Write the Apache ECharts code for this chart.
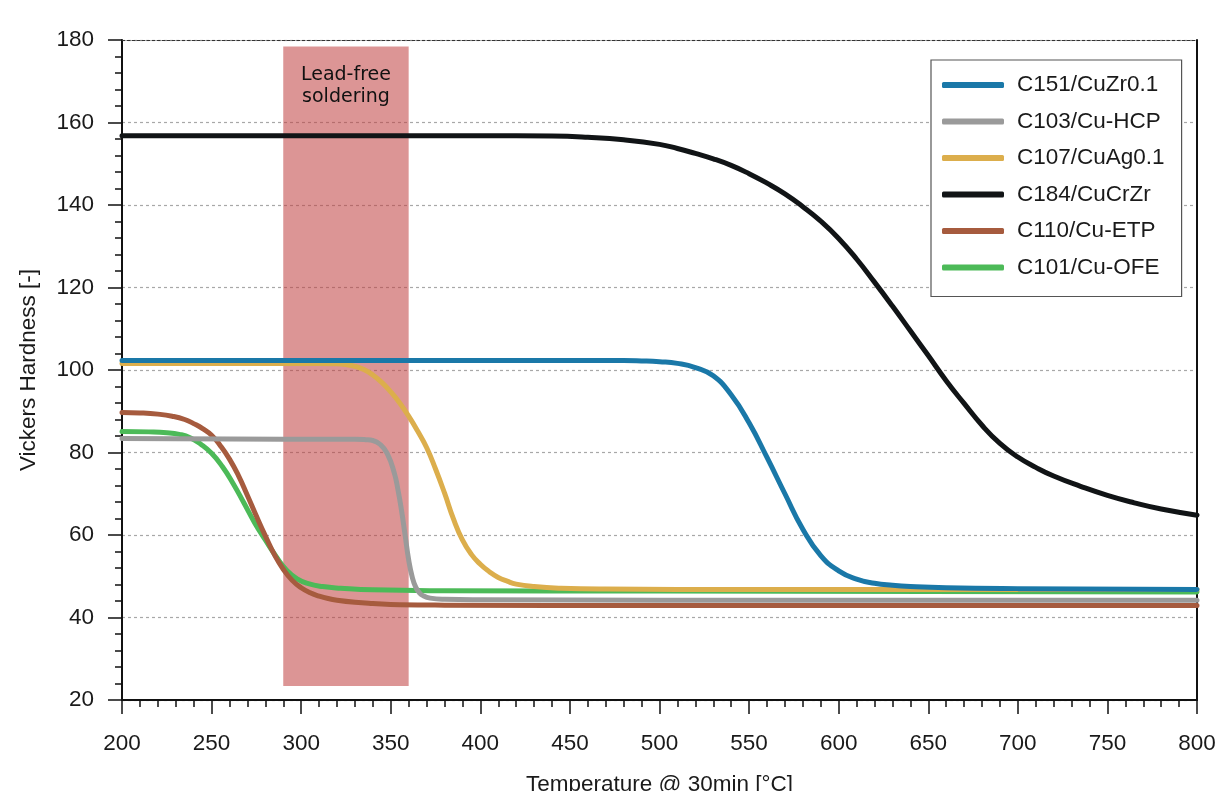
<!DOCTYPE html>
<html>
<head>
<meta charset="utf-8">
<script src="https://cdn.jsdelivr.net/npm/echarts@6/dist/echarts.min.js"></script>
<style>
html,body{margin:0;padding:0;background:#fff;}
#chart{width:1215px;height:791px;}
</style>
</head>
<body>
<div id="chart"></div>
<script>
// ---- Data (temperature in °C, Vickers hardness) ----
const seriesNames = ['C151/CuZr0.1', 'C103/Cu-HCP', 'C107/CuAg0.1', 'C184/CuCrZr', 'C110/Cu-ETP', 'C101/Cu-OFE'];

const c151T  = [200, 300, 400, 460, 480, 490, 500, 510, 520, 530, 540, 550, 560, 570, 580, 590, 600, 610, 620, 630, 640, 660, 700, 800];
const c151HV = [102.3, 102.3, 102.3, 102.3, 102.3, 102.2, 102.0, 101.6, 100.6, 98.6, 94.0, 87.2, 78.8, 70.0, 61.4, 55.0, 51.3, 49.3, 48.3, 47.8, 47.5, 47.2, 47.0, 46.8];

const c103T  = [200, 260, 320, 330, 336, 340, 344, 348, 352, 354, 356, 358, 360, 362, 364, 366, 368, 372, 380, 400, 500, 800];
const c103HV = [83.4, 83.3, 83.2, 83.2, 83.1, 82.9, 82.0, 79.8, 75.0, 71.0, 66.0, 60.0, 54.0, 49.8, 47.3, 46.0, 45.3, 44.7, 44.4, 44.3, 44.2, 44.2];

const c107T  = [200, 260, 310, 320, 325, 330, 335, 340, 345, 350, 355, 360, 365, 370, 375, 380, 385, 390, 395, 400, 405, 410, 415, 420, 430, 445, 470, 550, 800];
const c107HV = [101.6, 101.6, 101.6, 101.5, 101.3, 100.9, 100.1, 98.8, 97.0, 94.7, 92.0, 88.8, 85.2, 81.2, 76.0, 70.2, 63.9, 58.8, 55.3, 52.9, 51.1, 49.7, 48.8, 48.1, 47.5, 47.1, 46.9, 46.8, 46.8];

const c184T  = [200, 300, 400, 440, 460, 480, 500, 510, 520, 530, 540, 550, 560, 570, 580, 590, 600, 610, 620, 630, 640, 650, 660, 670, 680, 690, 700, 710, 720, 735, 750, 765, 780, 800];
const c184HV = [156.8, 156.8, 156.8, 156.7, 156.4, 155.8, 154.7, 153.7, 152.5, 151.2, 149.6, 147.6, 145.3, 142.7, 139.6, 136.1, 131.9, 126.9, 121.3, 115.5, 109.5, 103.5, 97.4, 91.9, 86.6, 82.2, 78.9, 76.4, 74.3, 71.8, 69.6, 67.8, 66.3, 64.8];

const c110T  = [200, 210, 220, 228, 235, 240, 245, 250, 255, 260, 265, 270, 275, 280, 285, 290, 295, 300, 305, 310, 315, 320, 330, 340, 355, 380, 500, 800];
const c110HV = [89.7, 89.6, 89.3, 88.8, 88.0, 87.0, 85.8, 84.2, 81.6, 78.4, 74.4, 69.6, 64.6, 59.8, 55.3, 51.7, 49.0, 47.2, 46.0, 45.2, 44.6, 44.2, 43.7, 43.4, 43.1, 43.0, 42.9, 42.9];

const c101T  = [200, 215, 225, 232, 238, 244, 250, 256, 262, 268, 274, 280, 286, 292, 298, 304, 312, 322, 340, 380, 500, 800];
const c101HV = [85.1, 85.0, 84.8, 84.4, 83.6, 82.0, 79.8, 76.6, 72.5, 67.8, 63.0, 58.8, 54.8, 51.4, 49.3, 48.2, 47.5, 47.1, 46.7, 46.5, 46.4, 46.2];

const solderBand = { from: 290, to: 360, low: 23.4, high: 178.4, label: 'Lead-free\nsoldering' };

const xTicks = { min: 200, max: 800, step: 50 };
const yTicks = { min: 20, max: 180, step: 20 };

// ---- Build ----
function pairs(t, v) { return t.map((x, i) => [x, v[i]]); }

const colors = ['#1a78a8', '#9a9a9a', '#dcae4c', '#111416', '#a65b3e', '#4cba58'];
const zOrder = [8, 7, 6, 5, 4, 3];
const dataSets = [
  pairs(c151T, c151HV), pairs(c103T, c103HV), pairs(c107T, c107HV),
  pairs(c184T, c184HV), pairs(c110T, c110HV), pairs(c101T, c101HV)
];

const font = "'Liberation Sans', Arial, sans-serif";

const series = [{
  type: 'line', name: '__band', data: [], z: 1, silent: true,
  markArea: {
    silent: true,
    itemStyle: { color: 'rgba(192,62,62,0.55)' },
    label: {
      show: true, position: 'insideTop', distance: 17,
      formatter: solderBand.label, color: '#111',
      fontFamily: "'DejaVu Sans', Verdana, sans-serif", fontSize: 19, lineHeight: 22
    },
    data: [[{ coord: [solderBand.from, solderBand.low] }, { coord: [solderBand.to, solderBand.high] }]]
  }
}];
seriesNames.forEach((n, i) => {
  series.push({
    type: 'line', name: n, data: dataSets[i], z: zOrder[i],
    showSymbol: false, symbol: 'none', smooth: 0.5,
    lineStyle: { color: colors[i], width: 5, cap: 'round', join: 'round' },
    itemStyle: { color: colors[i] }
  });
});

const chart = echarts.init(document.getElementById('chart'), null, { renderer: 'canvas' });
chart.setOption({
  animation: false,
  backgroundColor: '#fff',
  grid: { left: 122, top: 40, right: 18, bottom: 91, containLabel: false, outerBoundsMode: 'none' },
  legend: {
    data: seriesNames, orient: 'vertical', left: 931, top: 60,
    padding: [13, 17, 17, 11], itemGap: 12.5,
    icon: 'roundRect', itemWidth: 62, itemHeight: 6,
    borderColor: '#555', borderWidth: 1.2, backgroundColor: '#fff',
    textStyle: { fontFamily: font, fontSize: 22.5, color: '#1a1a1a', lineHeight: 24, padding: [0, 0, 0, 8] }
  },
  xAxis: [{
    type: 'value', min: xTicks.min, max: xTicks.max, interval: xTicks.step,
    name: 'Temperature @ 30min [°C]', nameLocation: 'middle', nameGap: 73,
    nameTextStyle: { fontFamily: font, fontSize: 22.5, color: '#1a1a1a' },
    axisLine: { show: true, onZero: false, lineStyle: { color: '#111', width: 2 } },
    axisTick: { show: true, inside: false, length: 14, lineStyle: { color: '#111', width: 1.5 } },
    minorTick: { show: true, splitNumber: 5, length: 7, lineStyle: { color: '#111', width: 1.5 } },
    axisLabel: { margin: 32, fontFamily: font, fontSize: 22.5, color: '#1a1a1a' },
    splitLine: { show: false }
  }, {
    type: 'value', position: 'top', min: xTicks.min, max: xTicks.max,
    axisLine: { show: true, onZero: false, lineStyle: { color: '#333', width: 1, type: [3, 2] } },
    axisTick: { show: false }, axisLabel: { show: false }, splitLine: { show: false }
  }],
  yAxis: [{
    type: 'value', min: yTicks.min, max: yTicks.max, interval: yTicks.step,
    name: 'Vickers Hardness [-]', nameLocation: 'middle', nameGap: 82, nameRotate: 90,
    nameTextStyle: { fontFamily: font, fontSize: 22.5, color: '#1a1a1a' },
    axisLine: { show: true, onZero: false, lineStyle: { color: '#111', width: 2 } },
    axisTick: { show: true, inside: false, length: 14, lineStyle: { color: '#111', width: 1.5 } },
    minorTick: { show: true, splitNumber: 5, length: 7, lineStyle: { color: '#111', width: 1.5 } },
    axisLabel: { margin: 28, fontFamily: font, fontSize: 22.5, color: '#1a1a1a' },
    splitLine: { show: true, lineStyle: { color: '#a8a8a8', width: 1.2, type: [3, 3] } }
  }, {
    type: 'value', position: 'right', min: yTicks.min, max: yTicks.max,
    axisLine: { show: true, onZero: false, lineStyle: { color: '#111', width: 2 } },
    axisTick: { show: false }, axisLabel: { show: false }, splitLine: { show: false }
  }],
  series: series
});
</script>
</body>
</html>
